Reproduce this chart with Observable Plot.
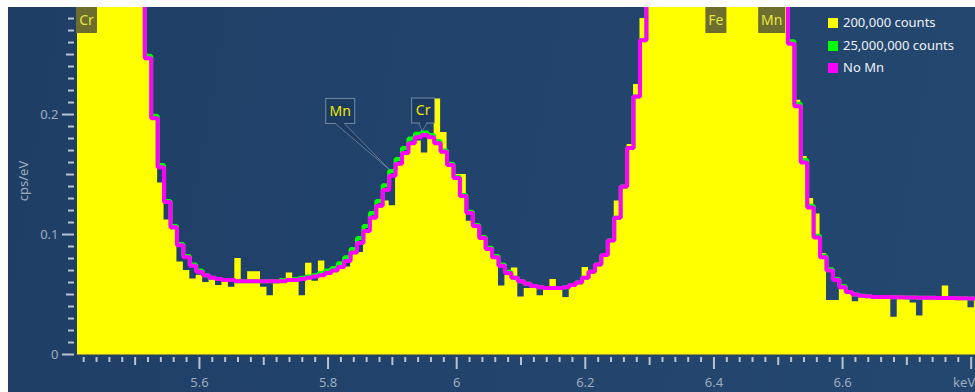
<!DOCTYPE html>
<html><head><meta charset="utf-8">
<script src="https://cdn.jsdelivr.net/npm/d3@7"></script>
<script src="https://cdn.jsdelivr.net/npm/@observablehq/plot@0.6"></script>
<style>
html,body{margin:0;padding:0;background:#fff;}
#wrap{position:relative;width:975px;height:392px;overflow:hidden;}
#panel{position:absolute;left:8px;top:7px;right:0;bottom:0;background:linear-gradient(100deg,#1f3e66 0%,#22446d 55%,#24476f 100%);}
#chart{position:absolute;left:0;top:0;}
.lg{position:absolute;left:828px;font:13px "Noto Sans",sans-serif;color:#eef2f7;white-space:nowrap;line-height:16px;}
.lg i{display:inline-block;width:10px;height:10px;vertical-align:-1px;margin-right:5px;}
</style></head>
<body>
<div id="wrap"><div id="panel"></div><div id="chart"></div><div id="legend"></div></div>
<script>
// ---- data (bins of 0.01 keV) ----
const energy = [5.41,5.42,5.43,5.44,5.45,5.46,5.47,5.48,5.49,5.50,5.51,5.52,5.53,5.54,5.55,5.56,5.57,5.58,5.59,5.60,
5.61,5.62,5.63,5.64,5.65,5.66,5.67,5.68,5.69,5.70,5.71,5.72,5.73,5.74,5.75,5.76,5.77,5.78,5.79,5.80,
5.81,5.82,5.83,5.84,5.85,5.86,5.87,5.88,5.89,5.90,5.91,5.92,5.93,5.94,5.95,5.96,5.97,5.98,5.99,6.00,
6.01,6.02,6.03,6.04,6.05,6.06,6.07,6.08,6.09,6.10,6.11,6.12,6.13,6.14,6.15,6.16,6.17,6.18,6.19,6.20,
6.21,6.22,6.23,6.24,6.25,6.26,6.27,6.28,6.29,6.30,6.31,6.32,6.33,6.34,6.35,6.36,6.37,6.38,6.39,6.40,
6.41,6.42,6.43,6.44,6.45,6.46,6.47,6.48,6.49,6.50,6.51,6.52,6.53,6.54,6.55,6.56,6.57,6.58,6.59,6.60,
6.61,6.62,6.63,6.64,6.65,6.66,6.67,6.68,6.69,6.70,6.71,6.72,6.73,6.74,6.75,6.76,6.77,6.78,6.79,6.80,6.81];

const counts200k = [1.30,1.36,1.22,1.16,0.95,0.83,0.61,0.52,0.40,0.36,0.31,0.245,0.196,0.143,0.112,0.104,0.077,0.070,0.063,0.066,
0.060,0.063,0.0575,0.061,0.056,0.080,0.060,0.069,0.069,0.056,0.049,0.059,0.060,0.068,0.060,0.049,0.076,0.061,0.078,0.066,
0.071,0.072,0.073,0.084,0.085,0.102,0.113,0.122,0.128,0.124,0.158,0.166,0.176,0.178,0.168,0.181,0.213,0.185,0.160,0.150,
0.150,0.111,0.106,0.096,0.089,0.080,0.057,0.066,0.072,0.048,0.055,0.057,0.049,0.055,0.0625,0.055,0.0475,0.057,0.059,0.0725,
0.068,0.074,0.082,0.094,0.128,0.138,0.175,0.225,0.280,0.34,0.41,0.56,0.70,0.97,1.22,1.60,1.90,2.25,2.40,2.50,
2.38,2.20,1.85,1.58,1.24,1.05,0.90,0.92,0.97,0.78,0.41,0.260,0.212,0.165,0.130,0.117,0.084,0.045,0.045,0.055,
0.051,0.044,0.049,0.049,0.048,0.048,0.047,0.031,0.048,0.047,0.043,0.032,0.047,0.048,0.046,0.057,0.047,0.046,0.047,0.039,0.046];

const counts25M = [1.34,1.33,1.26,1.13,0.97,0.80,0.64,0.51,0.42,0.35,0.30,0.249,0.199,0.158,0.128,0.107,0.092,0.082,0.075,0.070,
0.066,0.064,0.063,0.062,0.062,0.061,0.061,0.061,0.061,0.061,0.061,0.061,0.062,0.062,0.063,0.064,0.065,0.066,0.068,0.070,
0.072,0.076,0.081,0.088,0.097,0.107,0.118,0.128,0.141,0.153,0.163,0.172,0.180,0.184,0.185,0.183,0.178,0.170,0.159,0.148,
0.133,0.119,0.108,0.098,0.089,0.082,0.075,0.069,0.064,0.061,0.059,0.057,0.056,0.0555,0.0555,0.0555,0.056,0.058,0.060,0.064,
0.069,0.075,0.083,0.095,0.114,0.140,0.172,0.215,0.262,0.33,0.42,0.55,0.72,0.95,1.24,1.58,1.92,2.22,2.42,2.48,
2.40,2.18,1.88,1.56,1.26,1.04,0.90,0.95,1.00,0.80,0.48,0.261,0.209,0.162,0.124,0.099,0.082,0.071,0.063,0.057,
0.052,0.050,0.049,0.0485,0.048,0.048,0.048,0.0478,0.0477,0.0476,0.0475,0.0474,0.0473,0.0472,0.0471,0.047,0.047,0.0469,0.0468,0.0467,0.0466];

const noMn = [1.34,1.33,1.26,1.13,0.97,0.80,0.64,0.51,0.42,0.35,0.30,0.247,0.197,0.156,0.127,0.106,0.091,0.081,0.074,0.069,
0.066,0.064,0.063,0.062,0.062,0.061,0.061,0.061,0.061,0.061,0.061,0.061,0.061,0.062,0.062,0.063,0.064,0.065,0.066,0.068,
0.070,0.073,0.078,0.085,0.093,0.103,0.114,0.124,0.137,0.149,0.159,0.168,0.176,0.181,0.183,0.181,0.176,0.169,0.158,0.147,
0.132,0.118,0.107,0.097,0.088,0.081,0.074,0.068,0.064,0.061,0.059,0.057,0.056,0.0555,0.0555,0.0555,0.056,0.058,0.060,0.064,
0.069,0.075,0.083,0.095,0.114,0.140,0.172,0.215,0.262,0.33,0.42,0.55,0.72,0.95,1.24,1.58,1.92,2.22,2.42,2.48,
2.40,2.18,1.88,1.56,1.26,1.02,0.86,0.78,0.74,0.62,0.40,0.259,0.207,0.160,0.1225,0.0975,0.081,0.070,0.062,0.056,
0.052,0.050,0.049,0.0485,0.048,0.048,0.048,0.0478,0.0477,0.0476,0.0475,0.0474,0.0473,0.0472,0.0471,0.047,0.047,0.0469,0.0468,0.0467,0.0466];

const seriesNames = ["200,000 counts", "25,000,000 counts", "No Mn"];
const seriesColors = ["#ffff00", "#00ff00", "#ff00ff"];

const xMajorTicks = [5.6, 5.8, 6.0, 6.2, 6.4, 6.6, 6.8];
const xTickLabels = ["5.6", "5.8", "6", "6.2", "6.4", "6.6", "keV"];
const xMidTicks = [5.5, 5.7, 5.9, 6.1, 6.3, 6.5, 6.7];
const yMajorTicks = [0, 0.1, 0.2];
const yTickLabels = ["0", "0.1", "0.2"];
const yMidTicks = [0.05, 0.15, 0.25];

const topLineNames = ["Cr", "Fe", "Mn"];
const topLineEnergies = [5.4147, 6.4038, 6.4905];
const calloutNames = ["Mn", "Cr"];
const calloutEnergies = [5.899, 5.947];

// ---- build ----
const rows = energy.map((e, i) => ({e, a: counts200k[i], b: counts25M[i], c: noMn[i]}));
const xMinor = d3.range(5.42, 6.81, 0.02).filter(v => Math.abs(v * 10 - Math.round(v * 10)) > 1e-6);
const yMinor = d3.range(0.01, 0.285, 0.01).filter(v => Math.abs(v * 20 - Math.round(v * 20)) > 1e-6);
const xLab = new Map(xMajorTicks.map((v, i) => [v, xTickLabels[i]]));
const yLab = new Map(yMajorTicks.map((v, i) => [v, yTickLabels[i]]));
const xLabelTicks = xMajorTicks.slice(0, -1);
const xLastTick = xMajorTicks.slice(-1);

const canvas = document.createElement("canvas").getContext("2d");
function tw(t, font) { canvas.font = font; return canvas.measureText(t).width; }
const FONT = "14px 'Noto Sans'";

function topLabels(index, {x}, values, dims) {
  const g = d3.create("svg:g");
  topLineNames.forEach((name, i) => {
    const w = Math.round(tw(name, FONT)) + 6;
    const cx = x(topLineEnergies[i]);
    const x0 = Math.max(dims.marginLeft - 1, cx - w / 2);
    g.append("rect").attr("x", x0).attr("y", dims.marginTop).attr("width", w).attr("height", 26).attr("fill", "#6d6d2e");
    g.append("text").attr("x", x0 + w / 2).attr("y", dims.marginTop + 13).attr("dy", "0.35em")
      .attr("text-anchor", "middle").attr("fill", "#e6e640").style("font", FONT).text(name);
  });
  return g.node();
}

function nearest(e) { return d3.leastIndex(energy, (a, b) => Math.abs(a - e) - Math.abs(b - e)); }

function callouts(index, {x, y}) {
  const g = d3.create("svg:g");
  calloutNames.forEach((name, i) => {
    const px = x(calloutEnergies[i]);
    const py = y(counts25M[nearest(calloutEnergies[i])]) - 1;
    const w = Math.round(tw(name, FONT)) + 8, h = 25;
    let cx, bottom, path, gap;
    if (i === 0) {
      cx = px - 51; bottom = py - 46; gap = 5;
      path = `M${cx - 5},${bottom}L${px - 2},${py}L${cx + 4},${bottom}`;
    } else {
      cx = px + 1; bottom = py - 8; gap = 4;
      path = `M${cx - 4},${bottom}L${px},${py}L${cx + 4},${bottom}`;
    }
    g.append("path").attr("d", path).attr("fill", "#1d3b60").attr("stroke", "#8d9cb0").attr("stroke-width", 0.8).attr("stroke-opacity", 0.8);
    g.append("rect").attr("x", cx - w / 2).attr("y", bottom - h).attr("width", w).attr("height", h)
      .attr("fill", "#1d3b60").attr("stroke", "#8d9cb0").attr("stroke-width", 1).attr("stroke-opacity", 0.8);
    g.append("rect").attr("x", cx - gap + 1).attr("y", bottom - 1).attr("width", 2 * gap - 2).attr("height", 2).attr("fill", "#1d3b60");
    g.append("text").attr("x", cx).attr("y", bottom - h / 2).attr("dy", "0.35em").attr("text-anchor", "middle")
      .attr("fill", "#f2e600").style("font", FONT).text(name);
  });
  return g.node();
}

const tickStyle = {stroke: "#b9c3cf", strokeWidth: 2, tickFormat: () => "", label: null};
const textColor = "#9eabbd";

const chart = Plot.plot({
  width: 975, height: 392,
  marginLeft: 77, marginRight: 0, marginTop: 7, marginBottom: 38,
  style: {background: "transparent", fontFamily: "'Noto Sans'", fontSize: "13px", overflow: "visible"},
  x: {domain: [5.4104, 6.8067]},
  y: {domain: [0, 0.2892]},
  marks: [
    Plot.areaY(rows, {x: "e", y: "a", curve: "step", fill: seriesColors[0], clip: true}),
    Plot.ruleY([0], {stroke: "#9a9a30", strokeWidth: 1}),
    topLabels,
    Plot.lineY(rows, {x: "e", y: "b", curve: "step", stroke: seriesColors[1], strokeWidth: 4, strokeLinejoin: "miter", strokeLinecap: "butt", clip: true}),
    Plot.lineY(rows, {x: "e", y: "c", curve: "step", stroke: seriesColors[2], strokeWidth: 4, strokeLinejoin: "miter", strokeLinecap: "butt", clip: true}),
    callouts,
    Plot.axisX(xMinor, {...tickStyle, tickSize: 5, dy: 3}),
    Plot.axisX(xMidTicks, {...tickStyle, tickSize: 8, dy: 3}),
    Plot.axisX(xMajorTicks, {...tickStyle, tickSize: 12, dy: 3}),
    Plot.axisX(xLabelTicks, {tickSize: 0, tickPadding: 23, tickFormat: d => xLab.get(d), fill: textColor, fontSize: 13, label: null}),
    Plot.axisX(xLastTick, {tickSize: 0, tickPadding: 23, tickFormat: d => xLab.get(d), textAnchor: "end", dx: 4, fill: textColor, fontSize: 13, label: null}),
    Plot.axisY(yMinor, {...tickStyle, tickSize: 6, dx: -3}),
    Plot.axisY(yMidTicks, {...tickStyle, tickSize: 8, dx: -3}),
    Plot.axisY(yMajorTicks, {...tickStyle, tickSize: 12, dx: -3}),
    Plot.axisY(yMajorTicks, {tickSize: 0, tickPadding: 19, tickFormat: d => yLab.get(d), fill: textColor, fontSize: 13,
      label: "cps/eV", labelAnchor: "center", labelOffset: 59, labelArrow: "none"})
  ]
});
document.getElementById("chart").appendChild(chart);

const legend = document.getElementById("legend");
seriesNames.forEach((name, i) => {
  const d = document.createElement("div");
  d.className = "lg";
  d.style.top = (14 + i * 22.5) + "px";
  d.innerHTML = `<i style="background:${seriesColors[i]}"></i>`;
  d.appendChild(document.createTextNode(name));
  legend.appendChild(d);
});
</script>
</body></html>
